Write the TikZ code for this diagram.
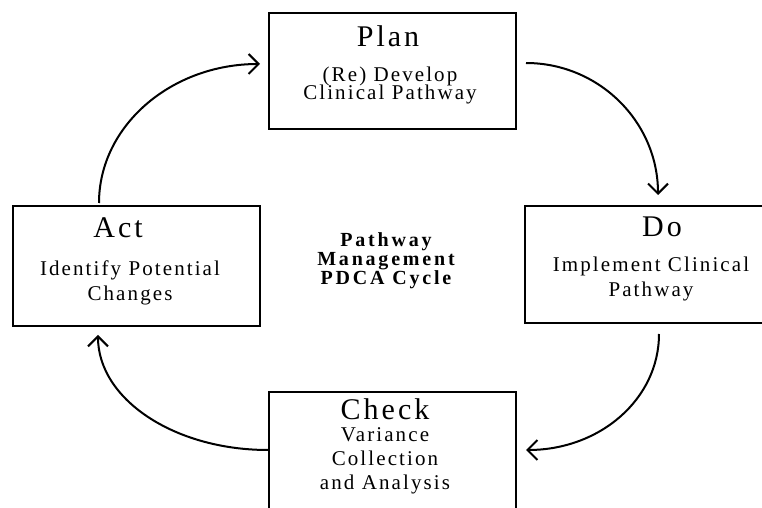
\documentclass[tikz,border=0pt]{standalone}
\usepackage{fontspec}
\setmainfont{Liberation Serif}
\newfontfamily\spacedfont[LetterSpace=10]{Liberation Serif}
\newfontfamily\widefont[LetterSpace=14]{Liberation Serif}
\usetikzlibrary{arrows.meta}
\usetikzlibrary{positioning}
\tikzset{stage/.style = {draw, line width = 1pt, inner sep = 0, anchor = north west}}
\tikzset{head/.style = {anchor = base, inner sep = 0, font = \spacedfont\fontsize{15}{18}\selectfont}}
\tikzset{note/.style = {anchor = base, inner sep = 0, align = center, font = {\spacedfont\fontsize{10.5}{#1}\selectfont\lineskiplimit = -5pt}}, note/.default = 12.5}
\tikzset{cycle/.style = {line width = 1pt, -{Straight Barb[length = 5pt, width = 10pt]}}}

\begin{document}
\begin{tikzpicture}[x = 0.5pt, y = -0.5pt]
  \useasboundingbox (0, 0) rectangle (762, 508);

  % the four stages
  \node [stage, minimum width = 123.5pt, minimum height = 58pt] (plan) at (268, 12) {};
  \node [stage, minimum width = 126pt, minimum height = 58.5pt] (do) at (524, 205) {};
  \node [stage, minimum width = 123.5pt, minimum height = 64.5pt] (check) at (268, 391) {};
  \node [stage, minimum width = 123.5pt, minimum height = 60pt] (act) at (12, 205) {};

  % base of a note is its last line
  \node [head] (plan title) at (388, 47) {Plan};
  \node [note = 9] (plan text) at (390, 100) {(Re) Develop\\Clinical Pathway};
  \node [head] (do title) at (662, 237) {Do};
  \node [note] (do text) at (651, 297) {Implement Clinical\\Pathway};
  \node [head] (check title) at (385, 420) {Check};
  \node [note = 12] (check text) at (385, 489) {Variance\\Collection\\and Analysis};
  \node [head] (act title) at (118, 238) {Act};
  \node [note] (act text) at (130, 300) {Identify Potential\\Changes};

  \node [anchor = base, inner sep = 0, align = center, font = {\widefont\bfseries\fontsize{10}{9.5}\selectfont\lineskiplimit = -5pt}] (cycle name) at (386, 285) {Pathway\\Management\\PDCA Cycle};

  % arrows round the cycle
  \draw [cycle] ([shift = {(9, -8)}] plan.east) .. controls +(73, 0) and +(0, -73) .. ([shift = {(7, -10)}] do.north);
  \draw [cycle] ([shift = {(8, 10)}] do.south) .. controls +(0, 65) and +(74, 0) .. ([shift = {(9, -6.5)}] check.east);
  \draw [cycle] ([shift = {(0, -6.5)}] check.west) .. controls +(-94, 0) and +(0, 64) .. ([shift = {(-38.5, 8)}] act.south);
  \draw [cycle] ([shift = {(-37.5, -2)}] act.north) .. controls +(0, -77) and +(-89, 0) .. ([shift = {(-8, -7)}] plan.west);
\end{tikzpicture}
\end{document}
